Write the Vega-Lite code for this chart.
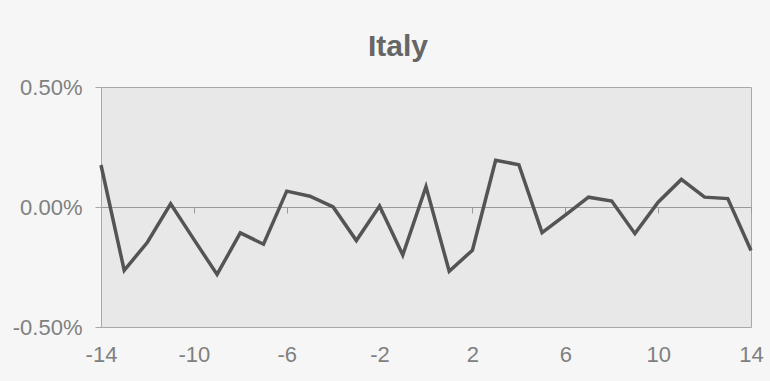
{
  "$schema": "https://vega.github.io/schema/vega-lite/v6.json",
  "width": 650,
  "height": 240,
  "autosize": {"type": "none"},
  "padding": {"left": 101, "top": 87, "right": 19, "bottom": 54},
  "background": "#f6f6f6",
  "title": {
    "text": "Italy",
    "font": "Liberation Sans",
    "fontSize": 30,
    "fontWeight": "bold",
    "color": "#666666",
    "anchor": "middle",
    "dx": -28,
    "offset": 14
  },
  "config": {
    "view": {"fill": "#e8e8e8", "stroke": "#a8a8a8", "strokeWidth": 1}
  },
  "data": {
    "values": [
      {"t": -14, "r": 0.00175},
      {"t": -13, "r": -0.00264},
      {"t": -12, "r": -0.00147},
      {"t": -11, "r": 0.00013},
      {"t": -10, "r": -0.00135},
      {"t": -9, "r": -0.00281},
      {"t": -8, "r": -0.00108},
      {"t": -7, "r": -0.00155},
      {"t": -6, "r": 0.00066},
      {"t": -5, "r": 0.00045},
      {"t": -4, "r": 0.0000},
      {"t": -3, "r": -0.0014},
      {"t": -2, "r": 0.00004},
      {"t": -1, "r": -0.002},
      {"t": 0, "r": 0.00085},
      {"t": 1, "r": -0.00268},
      {"t": 2, "r": -0.0018},
      {"t": 3, "r": 0.00195},
      {"t": 4, "r": 0.00176},
      {"t": 5, "r": -0.00107},
      {"t": 6, "r": -0.00034},
      {"t": 7, "r": 0.00041},
      {"t": 8, "r": 0.00025},
      {"t": 9, "r": -0.00111},
      {"t": 10, "r": 0.0002},
      {"t": 11, "r": 0.00115},
      {"t": 12, "r": 0.00041},
      {"t": 13, "r": 0.00035},
      {"t": 14, "r": -0.00181}
    ]
  },
  "mark": {"type": "line", "color": "#545454", "strokeWidth": 3.5, "strokeJoin": "miter"},
  "encoding": {
    "x": {
      "field": "t",
      "type": "quantitative",
      "scale": {"domain": [-14, 14], "nice": false, "zero": false},
      "axis": {
        "title": null,
        "values": [-14, -10, -6, -2, 2, 6, 10, 14],
        "labelExpr": "replace(datum.label, '\u2212', '-')",
        "grid": false,
        "offset": -120,
        "domainColor": "#9a9a9a",
        "tickColor": "#9a9a9a",
        "tickSize": 6,
        "labelPadding": 131,
        "labelFont": "Liberation Sans",
        "labelFontSize": 22,
        "labelColor": "#808080",
        "labelFlush": false
      }
    },
    "y": {
      "field": "r",
      "type": "quantitative",
      "scale": {"domain": [-0.005, 0.005], "nice": false},
      "axis": {
        "title": null,
        "values": [-0.005, 0, 0.005],
        "format": ".2%",
        "labelExpr": "replace(datum.label, '\u2212', '-')",
        "grid": false,
        "domainColor": "#a8a8a8",
        "tickColor": "#a8a8a8",
        "tickSize": 6,
        "labelPadding": 13,
        "labelFont": "Liberation Sans",
        "labelFontSize": 22,
        "labelColor": "#808080"
      }
    }
  }
}
